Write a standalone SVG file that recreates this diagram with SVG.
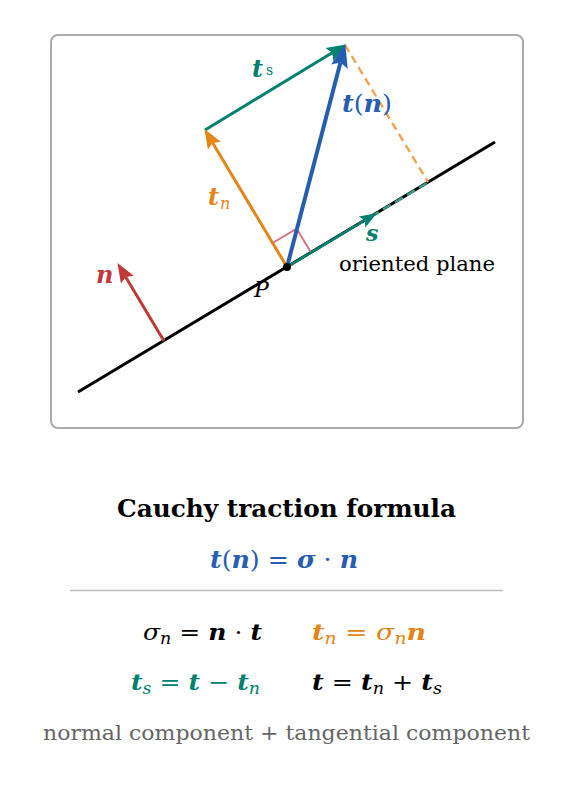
<svg xmlns="http://www.w3.org/2000/svg" width="574" height="789" viewBox="0 0 574 789" font-family="'DejaVu Serif','Liberation Serif',serif">
<style>
text{font-family:"DejaVu Serif","Liberation Serif",serif;}
.bi{font-weight:bold;font-style:italic;}
.it{font-style:italic;}
.rm{font-style:normal;font-weight:normal;}
.blue{fill:#265db0;}
.orange{fill:#e2861a;}
.teal{fill:#00806e;}
.red{fill:#c0393a;}
.blk{fill:#000;}
</style>
<defs>
<marker id="hBlue" markerUnits="userSpaceOnUse" markerWidth="30" markerHeight="30" viewBox="-2 -10 28 20" refX="4" refY="0" orient="auto"><path d="M0,-8 L22,0 L0,8 L4,0 z" fill="#265db0"/></marker>
<marker id="hOrange" markerUnits="userSpaceOnUse" markerWidth="30" markerHeight="30" viewBox="-2 -10 28 20" refX="3" refY="0" orient="auto"><path d="M0,-7 L18,0 L0,7 L3,0 z" fill="#e2861a"/></marker>
<marker id="hTeal" markerUnits="userSpaceOnUse" markerWidth="30" markerHeight="30" viewBox="-2 -10 28 20" refX="3" refY="0" orient="auto"><path d="M0,-7 L18,0 L0,7 L3,0 z" fill="#00806e"/></marker>
<marker id="hTealS" markerUnits="userSpaceOnUse" markerWidth="30" markerHeight="30" viewBox="-2 -10 28 20" refX="3" refY="0" orient="auto"><path d="M0,-6 L16,0 L0,6 L3,0 z" fill="#00806e"/></marker>
<marker id="hRed" markerUnits="userSpaceOnUse" markerWidth="30" markerHeight="30" viewBox="-2 -10 28 20" refX="3" refY="0" orient="auto"><path d="M0,-7 L18,0 L0,7 L3,0 z" fill="#c0393a"/></marker>
</defs>

<g id="frame">
<rect x="51" y="35" width="472" height="393" rx="7" fill="none" stroke="#aaaaaa" stroke-width="2"/>
</g>

<g id="plane">
<line x1="78" y1="392" x2="495" y2="142" stroke="#000" stroke-width="3"/>
<text x="339" y="271" font-size="21" textLength="156" lengthAdjust="spacingAndGlyphs">oriented plane</text>
</g>

<g id="connectors">
<line x1="345" y1="45" x2="428" y2="182" stroke="#f0a450" stroke-width="2.4" stroke-dasharray="8,5"/>
<line x1="287" y1="267" x2="428" y2="182.5" stroke="#3a9a8c" stroke-width="2.5" stroke-dasharray="9,5"/>
<polyline points="272.6,243 296.6,228.6 311,252.6" fill="none" stroke="#d67782" stroke-width="2"/>
<line id="arrow-n" x1="164" y1="341" x2="125.7" y2="276.9" stroke="#c0393a" stroke-width="3" marker-end="url(#hRed)"/>
<line id="arrow-ts" x1="205" y1="130" x2="332.2" y2="52.8" stroke="#00806e" stroke-width="3" marker-end="url(#hTeal)"/>
<line id="arrow-tn" x1="287" y1="267" x2="212.7" y2="142.9" stroke="#e2861a" stroke-width="3" marker-end="url(#hOrange)"/>
<line id="arrow-t" x1="287" y1="267" x2="340.45" y2="62.41" stroke="#265db0" stroke-width="4" marker-end="url(#hBlue)"/>
<line id="arrow-s" x1="287" y1="267" x2="364.85" y2="220.3" stroke="#00806e" stroke-width="2.5" marker-end="url(#hTealS)"/>
</g>

<g id="point-P">
<circle cx="287" cy="267" r="4" fill="#000"/>
<text x="254" y="297" font-size="22" class="it">P</text>
</g>

<g id="label-n"><text x="96" y="283" font-size="24" class="bi red">n</text></g>
<g id="label-t"><text x="342" y="112" font-size="24" class="blue" textLength="50" lengthAdjust="spacingAndGlyphs"><tspan class="bi">t</tspan><tspan class="rm">(</tspan><tspan class="bi">n</tspan><tspan class="rm">)</tspan></text></g>
<g id="label-ts"><text x="252" y="77" font-size="24" class="teal"><tspan class="bi">t</tspan><tspan class="rm" font-size="14" dx="3" dy="-2">s</tspan></text></g>
<g id="label-tn"><text x="208" y="205" font-size="24" class="orange"><tspan class="bi">t</tspan><tspan class="it" font-size="16" dx="1" dy="4">n</tspan></text></g>
<g id="label-s"><text x="366" y="241" font-size="22" class="bi teal">s</text></g>

<g id="caption">
<text x="117" y="517" font-size="24.5" font-weight="bold" textLength="339" lengthAdjust="spacingAndGlyphs">Cauchy traction formula</text>
<text x="210" y="568" font-size="24" class="blue" textLength="148" lengthAdjust="spacingAndGlyphs"><tspan class="bi">t</tspan><tspan>(</tspan><tspan class="bi">n</tspan><tspan>) = </tspan><tspan class="bi">σ</tspan><tspan> · </tspan><tspan class="bi">n</tspan></text>
<line x1="70" y1="590.5" x2="503" y2="590.5" stroke="#bbbbbb" stroke-width="1.5"/>
<text x="143" y="640" font-size="23" class="blk" textLength="119" lengthAdjust="spacingAndGlyphs"><tspan class="it">σ</tspan><tspan class="it" font-size="16" dy="4">n</tspan><tspan dy="-4"> = </tspan><tspan class="bi">n</tspan><tspan> · </tspan><tspan class="bi">t</tspan></text>
<text x="312" y="640" font-size="23" class="orange" textLength="114" lengthAdjust="spacingAndGlyphs"><tspan class="bi">t</tspan><tspan class="it" font-size="16" dy="4">n</tspan><tspan dy="-4"> = </tspan><tspan class="it">σ</tspan><tspan class="it" font-size="16" dy="4">n</tspan><tspan class="bi" dy="-4">n</tspan></text>
<text x="131" y="690" font-size="23" class="teal" textLength="129" lengthAdjust="spacingAndGlyphs"><tspan class="bi">t</tspan><tspan class="it" font-size="16" dy="4">s</tspan><tspan dy="-4"> = </tspan><tspan class="bi">t</tspan><tspan> − </tspan><tspan class="bi">t</tspan><tspan class="it" font-size="16" dy="4">n</tspan></text>
<text x="312" y="690" font-size="23" class="blk" textLength="130" lengthAdjust="spacingAndGlyphs"><tspan class="bi">t</tspan><tspan> = </tspan><tspan class="bi">t</tspan><tspan class="it" font-size="16" dy="4">n</tspan><tspan dy="-4"> + </tspan><tspan class="bi">t</tspan><tspan class="it" font-size="16" dy="4">s</tspan></text>
<text x="43" y="740" font-size="21" fill="#666666" textLength="487" lengthAdjust="spacingAndGlyphs">normal component + tangential component</text>
</g>
</svg>
